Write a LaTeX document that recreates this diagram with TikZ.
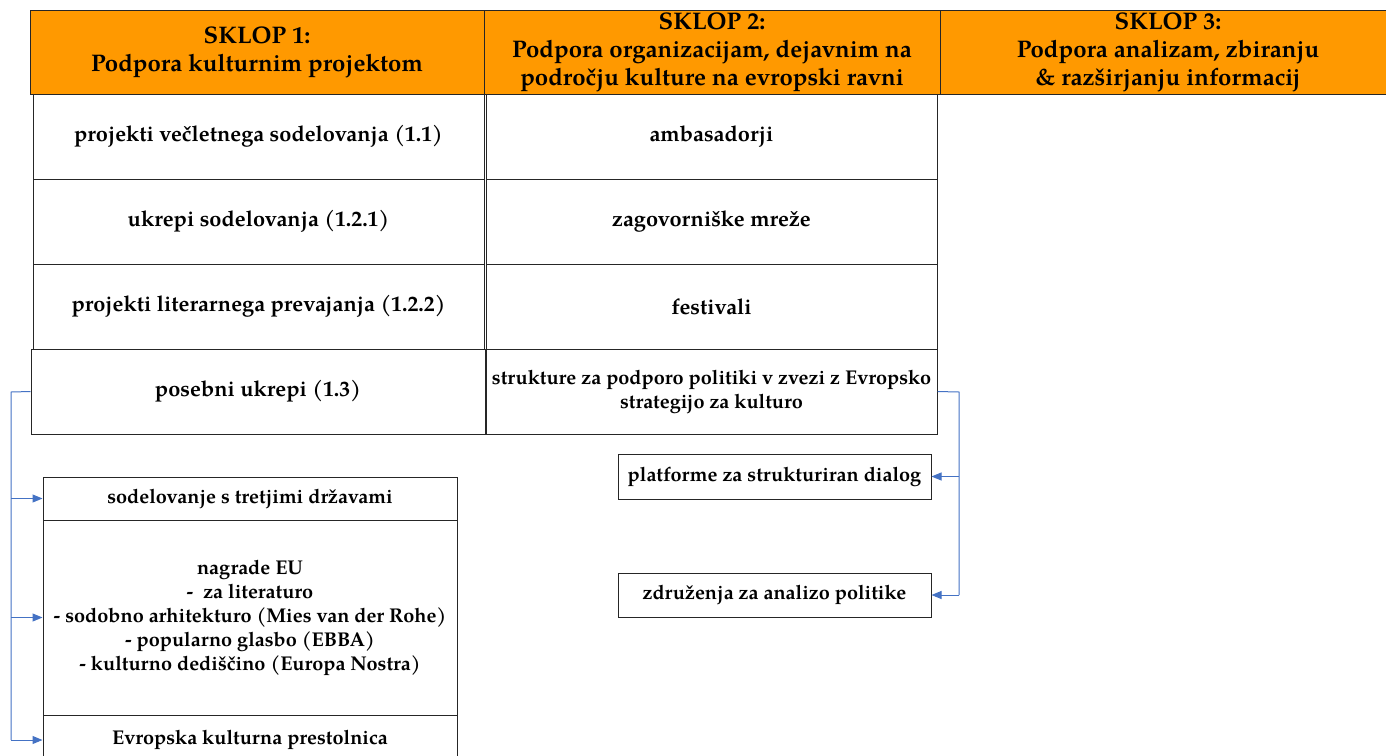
\documentclass[tikz,border=0pt]{standalone}
\usepackage{fontspec}
\setmainfont{TeX Gyre Pagella}
\usetikzlibrary{arrows.meta}
\definecolor{hdr}{RGB}{255,153,0}
\definecolor{conn}{RGB}{68,114,196}
\tikzset{
  hdrbox/.style={draw=black!85, line width=1pt, fill=hdr, inner sep=0pt, align=center, font=\fontsize{24}{28}\selectfont\bfseries},
  cellbox/.style={draw=black!85, line width=1pt, fill=white, inner sep=0pt, align=center, font=\fontsize{21.8}{25}\selectfont\bfseries},
  smallbox/.style={draw=black!85, line width=1pt, fill=white, inner sep=0pt, align=center, font=\fontsize{19.9}{24}\selectfont\bfseries},
  link/.style={draw=conn, line width=1pt, -{Triangle[width=8pt,length=10pt]}},
  linkplain/.style={draw=conn, line width=1pt}
}
\begin{document}
\begin{tikzpicture}[x=1pt,y=-1pt]
\useasboundingbox (0,0) rectangle (1386,755);
% headers
\node[hdrbox, minimum width=454pt, minimum height=84pt] (h1) at (257,52) {SKLOP 1:\\Podpora kulturnim projektom};
\node[hdrbox, minimum width=456pt, minimum height=84pt] (h2) at (712,52) {SKLOP 2:\\Podpora organizacijam, dejavnim na\\področju kulture na evropski ravni};
\node[hdrbox, minimum width=456pt, minimum height=84pt] (h3) at (1168,52) {SKLOP 3:\\Podpora analizam, zbiranju\\\& razširjanju informacij};
% column 1
\node[cellbox, minimum width=451pt, minimum height=85pt] (a1) at (258.5,136.5) {projekti večletnega sodelovanja (1.1)};
\node[cellbox, minimum width=451pt, minimum height=85pt] (a2) at (258.5,221.5) {ukrepi sodelovanja (1.2.1)};
\node[cellbox, minimum width=451pt, minimum height=85pt] (a3) at (258.5,306.5) {projekti literarnega prevajanja (1.2.2)};
\node[cellbox, minimum width=454pt, minimum height=85pt] (a4) at (258,391.5) {posebni ukrepi (1.3)};
% column 2
\node[cellbox, minimum width=451pt, minimum height=85pt] (b1) at (711.5,136.5) {ambasadorji};
\node[cellbox, minimum width=451pt, minimum height=85pt] (b2) at (711.5,221.5) {zagovorniške mreže};
\node[cellbox, minimum width=451pt, minimum height=85pt] (b3) at (711.5,306.5) {festivali};
\node[smallbox, minimum width=451pt, minimum height=85pt] (b4) at (711.5,391.5) {strukture za podporo politiki v zvezi z Evropsko\\strategijo za kulturo};
% sub boxes left
\node[smallbox, minimum width=414pt, minimum height=43pt] (c1) at (250,498.5) {sodelovanje s tretjimi državami};
\node[smallbox, minimum width=414pt, minimum height=195pt] (c2) at (250,617.5) {nagrade EU\\-~~za literaturo\\- sodobno arhitekturo (Mies van der Rohe)\\- popularno glasbo (EBBA)\\- kulturno dediščino (Europa Nostra)};
\node[smallbox, minimum width=414pt, minimum height=50pt] (c3) at (250,740) {Evropska kulturna prestolnica};
% sub boxes right
\node[smallbox, minimum width=313pt, minimum height=45pt] (d1) at (774.5,476.5) {platforme za strukturiran dialog};
\node[smallbox, minimum width=313pt, minimum height=44pt] (d2) at (774.5,595) {združenja za analizo politike};
% connectors
\coordinate (lx) at (11,392);
\coordinate (rx) at (959,392);
\draw[linkplain] (a4.west) -- (lx) -- (lx |- c3.west);
\draw[link] (lx |- c1.west) -- (c1.west);
\draw[link] (lx |- c2.west) -- (c2.west);
\draw[link] (lx |- c3.west) -- (c3.west);
\draw[linkplain] (b4.east) -- (rx) -- (rx |- d2.east);
\draw[link] (rx |- d1.east) -- (d1.east);
\draw[link] (rx |- d2.east) -- (d2.east);
\end{tikzpicture}
\end{document}
